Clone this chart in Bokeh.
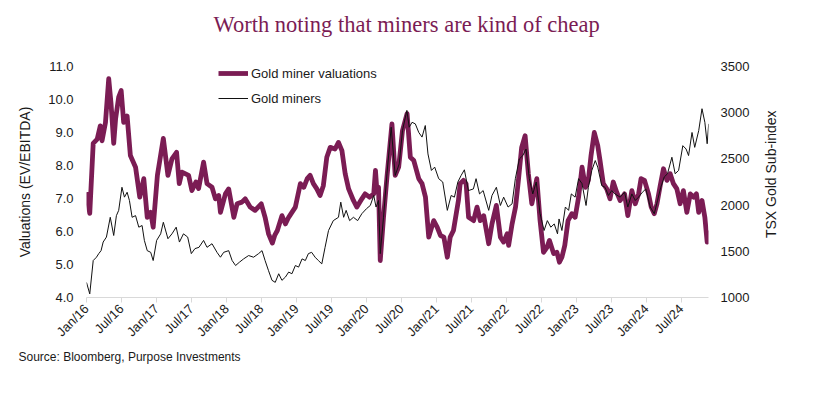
import math
import pandas as pd
from bokeh.plotting import figure
from bokeh.layouts import row
from bokeh.core.properties import value
from bokeh.models import (Range1d, LinearAxis, FixedTicker, DatetimeTickFormatter,
                          NumeralTickFormatter, Legend, LegendItem, Title)
from bokeh.embed import file_html
from bokeh.resources import INLINE

# ---------------- data ----------------
title_text = "Worth noting that miners are kind of cheap"
source_text = "Source: Bloomberg, Purpose Investments"
series_names = ["Gold miner valuations", "Gold miners"]
left_label = "Valuations (EV/EBITDA)"
right_label = "TSX Gold Sub-index"

val_dates = [
    "2016-01-01", "2016-01-18", "2016-02-05", "2016-02-26", "2016-03-13", "2016-03-22", "2016-04-09",
    "2016-04-26", "2016-05-08", "2016-05-22", "2016-06-01", "2016-06-17", "2016-06-30", "2016-07-13",
    "2016-07-31", "2016-08-17", "2016-09-13", "2016-10-05", "2016-10-26", "2016-11-13", "2016-12-01",
    "2016-12-14", "2017-01-05", "2017-02-05", "2017-03-01", "2017-03-22", "2017-04-15", "2017-04-29",
    "2017-05-13", "2017-06-17", "2017-07-04", "2017-07-25", "2017-08-08", "2017-09-03", "2017-09-21",
    "2017-10-17", "2017-11-04", "2017-11-21", "2017-11-30", "2017-12-26", "2018-01-12", "2018-02-08",
    "2018-02-25", "2018-03-22", "2018-04-08", "2018-05-04", "2018-05-30", "2018-07-01", "2018-07-21",
    "2018-08-08", "2018-08-28", "2018-09-09", "2018-09-23", "2018-10-17", "2018-11-04", "2018-11-21",
    "2018-12-08", "2018-12-26", "2019-01-21", "2019-02-08", "2019-02-26", "2019-03-13", "2019-03-30",
    "2019-04-17", "2019-05-04", "2019-05-21", "2019-06-08", "2019-06-26", "2019-07-21", "2019-08-08",
    "2019-08-26", "2019-09-12", "2019-09-30", "2019-10-25", "2019-11-12", "2019-12-08", "2019-12-25",
    "2020-01-17", "2020-02-08", "2020-02-17", "2020-02-25", "2020-03-04", "2020-03-13", "2020-03-30",
    "2020-04-17", "2020-05-13", "2020-05-30", "2020-06-17", "2020-07-07", "2020-07-31", "2020-08-17",
    "2020-09-04", "2020-09-30", "2020-10-17", "2020-11-04", "2020-11-21", "2020-12-17", "2021-01-04",
    "2021-01-21", "2021-02-08", "2021-02-26", "2021-03-13", "2021-03-30", "2021-04-25", "2021-05-04",
    "2021-05-21", "2021-06-04", "2021-06-17", "2021-07-13", "2021-07-31", "2021-08-17", "2021-09-04",
    "2021-09-30", "2021-10-17", "2021-11-09", "2021-11-30", "2021-12-17", "2022-01-04", "2022-01-12",
    "2022-01-30", "2022-02-17", "2022-03-04", "2022-03-21", "2022-04-08", "2022-04-25", "2022-05-13",
    "2022-05-25", "2022-06-08", "2022-06-25", "2022-07-13", "2022-07-31", "2022-08-13", "2022-09-04",
    "2022-09-21", "2022-10-04", "2022-10-17", "2022-11-01", "2022-11-18", "2022-12-08", "2022-12-25",
    "2023-01-12", "2023-01-30", "2023-02-17", "2023-03-04", "2023-03-18", "2023-04-04", "2023-04-22",
    "2023-05-04", "2023-05-21", "2023-06-08", "2023-06-25", "2023-07-12", "2023-07-30", "2023-08-17",
    "2023-09-09", "2023-09-26", "2023-10-17", "2023-11-04", "2023-11-21", "2023-12-04", "2023-12-22",
    "2024-01-12", "2024-01-26", "2024-02-11", "2024-02-25", "2024-03-13", "2024-03-30", "2024-04-17",
    "2024-05-04", "2024-05-21", "2024-06-08", "2024-06-25", "2024-07-12", "2024-07-30", "2024-08-17",
    "2024-09-04", "2024-09-18", "2024-09-30", "2024-10-17", "2024-11-01", "2024-11-13", "2024-11-21",
]
val_values = [
    7.19, 6.55, 8.67, 8.80, 9.20, 8.75, 9.30,
    10.63, 9.88, 8.67, 9.42, 10.07, 10.27, 9.31,
    9.50, 8.30, 7.95, 7.04, 7.60, 6.43, 6.58,
    6.13, 7.70, 8.82, 7.70, 8.20, 8.40, 7.45,
    7.80, 7.70, 7.24, 7.50, 7.30, 8.10, 7.45,
    7.34, 6.99, 7.09, 6.58, 7.14, 7.29, 6.43,
    6.84, 6.89, 6.99, 6.74, 6.64, 6.84, 6.43,
    5.93, 5.65, 5.88, 6.03, 6.48, 6.23, 6.43,
    6.58, 6.74, 7.45, 7.34, 7.60, 7.70, 7.45,
    7.29, 7.09, 7.39, 8.25, 8.55, 8.50, 8.70,
    8.45, 7.75, 7.29, 6.94, 6.74, 6.99, 7.14,
    7.04, 7.14, 7.85, 7.19, 7.34, 5.12, 6.43,
    7.65, 9.26, 7.70, 7.95, 9.06, 9.57, 8.25,
    8.15, 7.60, 7.45, 7.04, 5.83, 6.33, 6.13,
    5.88, 5.83, 5.22, 5.83, 6.03, 6.94, 7.45,
    7.55, 7.45, 6.43, 6.33, 6.74, 6.33, 6.48,
    5.63, 6.23, 6.79, 5.83, 5.68, 5.93, 5.58,
    6.23, 6.74, 7.55, 8.55, 8.90, 7.75, 6.84,
    7.19, 7.60, 6.33, 5.37, 5.52, 5.73, 5.33,
    5.37, 5.07, 5.22, 5.58, 6.33, 6.54, 6.43,
    7.04, 7.95, 7.34, 7.55, 8.30, 9.00, 8.60,
    8.15, 7.45, 7.29, 6.99, 7.50, 7.19, 6.94,
    7.14, 6.48, 7.24, 6.84, 7.14, 7.60, 7.55,
    7.14, 6.74, 6.54, 6.84, 7.39, 7.90, 7.55,
    7.75, 7.45, 7.29, 6.84, 7.24, 6.58, 7.14,
    7.04, 7.14, 6.58, 6.94, 6.43, 5.68, 6.03,
]

idx_dates = [
    "2016-01-01", "2016-01-18", "2016-02-05", "2016-02-22", "2016-03-05", "2016-03-17", "2016-03-28",
    "2016-04-14", "2016-05-04", "2016-05-22", "2016-06-05", "2016-06-17", "2016-07-04", "2016-07-17",
    "2016-07-31", "2016-08-12", "2016-08-26", "2016-09-13", "2016-09-30", "2016-10-17", "2016-10-29",
    "2016-11-13", "2016-12-01", "2016-12-14", "2017-01-01", "2017-01-22", "2017-02-05", "2017-03-01",
    "2017-03-22", "2017-04-13", "2017-04-30", "2017-05-21", "2017-06-12", "2017-07-01", "2017-07-20",
    "2017-08-10", "2017-09-03", "2017-09-21", "2017-10-17", "2017-11-12", "2017-11-30", "2017-12-17",
    "2018-01-12", "2018-01-30", "2018-02-17", "2018-03-09", "2018-03-31", "2018-04-26", "2018-05-22",
    "2018-06-17", "2018-07-05", "2018-07-21", "2018-08-08", "2018-08-26", "2018-09-12", "2018-09-30",
    "2018-10-17", "2018-11-04", "2018-11-21", "2018-12-08", "2018-12-26", "2019-01-12", "2019-01-30",
    "2019-02-16", "2019-03-04", "2019-03-21", "2019-04-08", "2019-04-25", "2019-05-13", "2019-05-30",
    "2019-06-17", "2019-07-12", "2019-08-08", "2019-08-20", "2019-09-04", "2019-09-17", "2019-10-05",
    "2019-10-25", "2019-11-16", "2019-12-08", "2020-01-01", "2020-01-21", "2020-02-08", "2020-02-20",
    "2020-03-04", "2020-03-13", "2020-03-30", "2020-04-17", "2020-05-09", "2020-05-30", "2020-06-20",
    "2020-07-07", "2020-07-30", "2020-08-11", "2020-08-26", "2020-09-12", "2020-09-30", "2020-10-17",
    "2020-11-03", "2020-11-17", "2020-12-05", "2020-12-22", "2021-01-12", "2021-02-02", "2021-02-26",
    "2021-03-18", "2021-04-04", "2021-04-22", "2021-05-09", "2021-05-26", "2021-06-16", "2021-07-12",
    "2021-07-26", "2021-08-13", "2021-09-01", "2021-09-30", "2021-10-17", "2021-11-09", "2021-11-30",
    "2021-12-17", "2022-01-09", "2022-01-30", "2022-02-16", "2022-03-09", "2022-03-27", "2022-04-13",
    "2022-04-30", "2022-05-18", "2022-06-05", "2022-06-25", "2022-07-16", "2022-08-02", "2022-08-20",
    "2022-09-07", "2022-09-24", "2022-10-02", "2022-10-17", "2022-11-04", "2022-11-21", "2022-12-05",
    "2022-12-25", "2023-01-12", "2023-01-30", "2023-02-20", "2023-03-04", "2023-03-22", "2023-04-09",
    "2023-04-22", "2023-05-13", "2023-05-30", "2023-06-17", "2023-07-04", "2023-07-21", "2023-08-17",
    "2023-09-09", "2023-09-26", "2023-10-17", "2023-11-04", "2023-11-21", "2023-12-11", "2023-12-29",
    "2024-01-21", "2024-02-11", "2024-02-28", "2024-03-16", "2024-04-03", "2024-04-20", "2024-05-13",
    "2024-05-30", "2024-06-17", "2024-07-09", "2024-07-26", "2024-08-08", "2024-08-26", "2024-09-09",
    "2024-09-30", "2024-10-17", "2024-11-01", "2024-11-13", "2024-11-21",
]
idx_values = [
    1163, 1039, 1400, 1436, 1475, 1507, 1600,
    1654, 1868, 1671, 1886, 1943, 2193, 2086,
    2139, 2050, 1868, 1886, 1761, 1779, 1618,
    1507, 1489, 1400, 1618, 1689, 1814, 1636,
    1689, 1761, 1600, 1689, 1654, 1475, 1529,
    1543, 1618, 1543, 1582, 1489, 1436, 1489,
    1507, 1400, 1346, 1382, 1418, 1454, 1436,
    1475, 1507, 1400, 1290, 1186, 1164, 1257,
    1186, 1221, 1275, 1257, 1346, 1329, 1418,
    1400, 1475, 1489, 1436, 1400, 1364, 1543,
    1725, 1832, 1868, 2032, 1868, 1943, 1832,
    1868, 1832, 1907, 1961, 1996, 2104, 1979,
    2050, 1475, 1868, 2339, 2843, 2321, 2446,
    2807, 3025, 2843, 2896, 2879, 2786, 2736,
    2861, 2554, 2375, 2411, 2286, 2250, 1943,
    2104, 2086, 2250, 2321, 2382, 2157, 2175,
    2286, 2121, 2157, 1943, 2104, 2193, 1996,
    2086, 1979, 2014, 2286, 2500, 2536, 2607,
    2286, 2121, 2250, 1907, 1725, 1832, 1761,
    1796, 1689, 1850, 1725, 1979, 1943, 2121,
    2086, 2286, 2232, 1996, 2193, 2375, 2482,
    2411, 2211, 2193, 2104, 2157, 2121, 2086,
    2139, 1979, 2121, 2050, 2086, 2139, 2175,
    1979, 1907, 2050, 2193, 2304, 2339, 2518,
    2339, 2375, 2643, 2607, 2536, 2786, 2625,
    2807, 3043, 2896, 2664, 2879,
]

left_ticks = [4, 5, 6, 7, 8, 9, 10, 11]
right_ticks = [1000, 1500, 2000, 2500, 3000, 3500]
x_tick_dates = ["2016-01-01", "2016-07-01", "2017-01-01", "2017-07-01", "2018-01-01", "2018-07-01",
                "2019-01-01", "2019-07-01", "2020-01-01", "2020-07-01", "2021-01-01", "2021-07-01",
                "2022-01-01", "2022-07-01", "2023-01-01", "2023-07-01", "2024-01-01", "2024-07-01"]

# ---------------- styling ----------------
PURPLE = "#7B1C54"
FONT = "Liberation Sans"
TEXT = "#1a1a1a"
H = 403
MAIN_W = 760
SIDE_W = 64

vd = pd.to_datetime(val_dates)
idd = pd.to_datetime(idx_dates)
x_start = pd.Timestamp("2016-01-01")
x_end = pd.Timestamp("2024-11-20")

p = figure(width=MAIN_W, height=H, x_axis_type="datetime",
           x_range=Range1d(x_start, x_end), y_range=Range1d(4, 11),
           output_backend="svg", toolbar_location=None,
           min_border_left=86, min_border_right=52, min_border_top=66, min_border_bottom=106)
p.extra_y_ranges = {"idx": Range1d(1000, 3500)}
p.outline_line_color = None
p.xgrid.grid_line_color = None
p.ygrid.grid_line_color = None
p.background_fill_color = "white"
p.border_fill_color = "white"

r1 = p.line(vd, val_values, line_color=PURPLE, line_width=4.8, line_join="round")
r2 = p.line(idd, idx_values, line_color="#111111", line_width=1, y_range_name="idx")

# x axis
xa = p.xaxis[0]
xa.ticker = FixedTicker(ticks=[pd.Timestamp(d).value / 1e6 for d in x_tick_dates])
fmt = "%b/%y"
xa.formatter = DatetimeTickFormatter(days=fmt, months=fmt, years=fmt, hours=fmt, minutes=fmt)
xa.major_label_orientation = math.pi / 4
xa.axis_line_color = "#d9d9d9"
xa.major_tick_line_color = "#d9d9d9"
xa.major_tick_out = 5
xa.major_tick_in = 0
xa.minor_tick_line_color = None
xa.major_label_text_font = FONT
xa.major_label_text_font_size = "13px"
xa.major_label_text_color = TEXT
xa.major_label_standoff = 4

# left axis
ya = p.yaxis[0]
ya.ticker = FixedTicker(ticks=left_ticks)
ya.formatter = NumeralTickFormatter(format="0.0")
ya.axis_line_color = None
ya.major_tick_line_color = None
ya.minor_tick_line_color = None
ya.major_label_text_font = FONT
ya.major_label_text_font_size = "13px"
ya.major_label_text_color = TEXT
ya.major_label_standoff = 7
ya.axis_label = left_label
ya.axis_label_text_font = FONT
ya.axis_label_text_font_size = "14px"
ya.axis_label_text_font_style = "normal"
ya.axis_label_text_color = TEXT
ya.axis_label_standoff = 12

# right axis (its title is drawn in the narrow side panel)
ra = LinearAxis(y_range_name="idx", ticker=FixedTicker(ticks=right_ticks))
ra.axis_line_color = None
ra.major_tick_line_color = None
ra.minor_tick_line_color = None
ra.major_label_text_font = FONT
ra.major_label_text_font_size = "13px"
ra.major_label_text_color = TEXT
ra.major_label_standoff = 6
p.add_layout(ra, "right")

# legend
legend = Legend(items=[LegendItem(label=series_names[0], renderers=[r1]),
                       LegendItem(label=series_names[1], renderers=[r2])],
                location=(132, 189), orientation="vertical",
                border_line_color=None, background_fill_alpha=0,
                padding=0, margin=0, spacing=5, glyph_width=30, glyph_height=20,
                label_height=20, label_standoff=3,
                label_text_font=FONT, label_text_font_size="13px", label_text_color=TEXT)
p.add_layout(legend)

# title (with an empty spacer between it and the frame) and source
spacer = Title(text=" ", text_font_size="1px", standoff=22)
p.add_layout(spacer, "above")
t = Title(text=title_text, align="left", text_font="Liberation Serif", text_font_size="22.5px",
          text_font_style="normal", text_color=PURPLE, standoff=10, offset=127)
p.add_layout(t, "above")
s = Title(text=source_text, align="left", text_font=FONT, text_font_size="12px",
          text_font_style="normal", text_color=TEXT, offset=-68, standoff=0)
p.add_layout(s, "below")

# narrow side panel holding the right axis title, reading bottom-to-top
side = figure(width=SIDE_W, height=H, x_range=Range1d(0, SIDE_W), y_range=Range1d(H, 0),
              x_axis_location=None, y_axis_location=None, output_backend="svg",
              toolbar_location=None, min_border=0)
side.outline_line_color = None
side.xgrid.grid_line_color = None
side.ygrid.grid_line_color = None
side.text(x=[10], y=[188], text=[right_label], angle=math.pi / 2,
          text_align="center", text_baseline="middle", text_font=value(FONT),
          text_font_size="14px", text_color=TEXT)

layout = row(p, side, spacing=0)
open("out.html", "w").write(file_html(layout, INLINE))
